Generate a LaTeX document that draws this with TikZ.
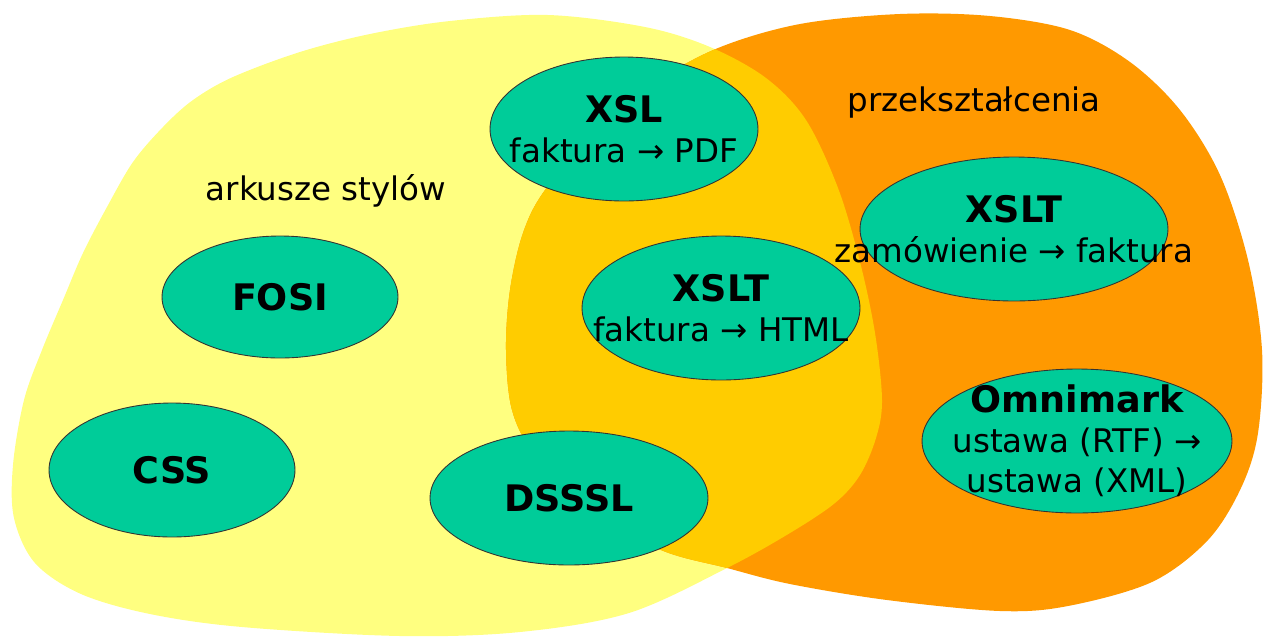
\documentclass[tikz,border=0pt]{standalone}
\usepackage{fontspec}
\setmainfont{DejaVu Sans}
\usepackage{tikz}
\usetikzlibrary{shapes.geometric}
\definecolor{stylyellow}{HTML}{FFFF80}
\definecolor{transorange}{HTML}{FF9900}
\definecolor{bothgold}{HTML}{FFCC00}
\definecolor{techgreen}{HTML}{00CC99}
% outlines of the two areas (pixel grid, y downwards)
\newcommand{\stylarea}{plot[smooth cycle, tension=0.55] coordinates {
  (450,21) (548,15) (645,27) (710,47) (766,78) (806,120) (838,188) (860,262)
  (875,333) (882,400) (876,438) (860,475) (835,503) (790,533) (727,568)
  (629,613) (520,632) (400,636) (242,627) (150,614) (81,594) (35,563)
  (14,518) (13,465) (24,400) (42,350) (63,300) (83,253) (107,207)
  (133,162) (163,127) (193,100) (233,77) (300,52) (370,34)}}
\newcommand{\transarea}{plot[smooth cycle, tension=0.55] coordinates {
  (900,14) (990,16) (1070,30) (1130,62) (1180,110) (1220,175) (1248,260)
  (1262,350) (1258,433) (1241,488) (1208,540) (1152,582) (1068,606)
  (1000,611) (887,600) (790,584) (727,568) (661,550) (590,510) (535,455)
  (512,410) (506,350) (510,290) (523,233) (545,190) (600,125) (650,85)
  (718,48) (800,24)}}

\begin{document}
\begin{tikzpicture}[
  x=0.02cm, y=-0.02cm,
  tech/.style={ellipse, draw=black!80, line width=0.5pt, fill=techgreen,
               inner sep=0pt},
  lbl/.style={align=center, inner sep=0pt,
              font=\fontsize{18.5}{22.8}\selectfont},
  ttl/.style={font=\bfseries\fontsize{20.8}{22.8}\selectfont},
]
\useasboundingbox (0,0) rectangle (1265,637);

% Areas: style sheets, transformations and their overlap
\fill[stylyellow] \stylarea;
\fill[transorange] \transarea;
\begin{scope}
  \clip \stylarea;
  \fill[bothgold] \transarea;
\end{scope}

% Area labels
\node[lbl, anchor=base] (styl) at (326,200) {arkusze stylów};
\node[lbl, anchor=base] (trans) at (974,111) {przekształcenia};

% Style sheet languages
\node[tech, minimum width=4.72cm, minimum height=2.44cm] (fosi) at (280,297) {};
\node[lbl, ttl] (fosi-t) at (fosi) {FOSI};
\node[tech, minimum width=4.92cm, minimum height=2.68cm] (css) at (172,470) {};
\node[lbl, ttl] (css-t) at (css) {CSS};
\node[tech, minimum width=5.56cm, minimum height=2.68cm] (dsssl) at (569,498) {};
\node[lbl, ttl] (dsssl-t) at (dsssl) {DSSSL};

% Overlap
\node[tech, minimum width=5.36cm, minimum height=2.88cm] (xsl) at (624,129) {};
\node[lbl] (xsl-t) at (xsl)
  {{\bfseries\fontsize{20.8}{22.8}\selectfont XSL}\\faktura → PDF};
\node[tech, minimum width=5.56cm, minimum height=2.88cm] (xslt) at (721,308) {};
\node[lbl] (xslt-t) at (xslt)
  {{\bfseries\fontsize{20.8}{22.8}\selectfont XSLT}\\faktura → HTML};

% Transformations
\node[tech, minimum width=6.16cm, minimum height=2.88cm] (order) at (1014,229) {};
\node[lbl] (order-t) at (order)
  {{\bfseries\fontsize{20.8}{22.8}\selectfont XSLT}\\zamówienie → faktura};
\node[tech, minimum width=6.2cm, minimum height=2.88cm] (omni) at (1077,441) {};
\node[lbl] (omni-t) at (omni)
  {{\bfseries\fontsize{20.8}{22.8}\selectfont Omnimark}\\ustawa (RTF) →\\ustawa (XML)};
\end{tikzpicture}
\end{document}
